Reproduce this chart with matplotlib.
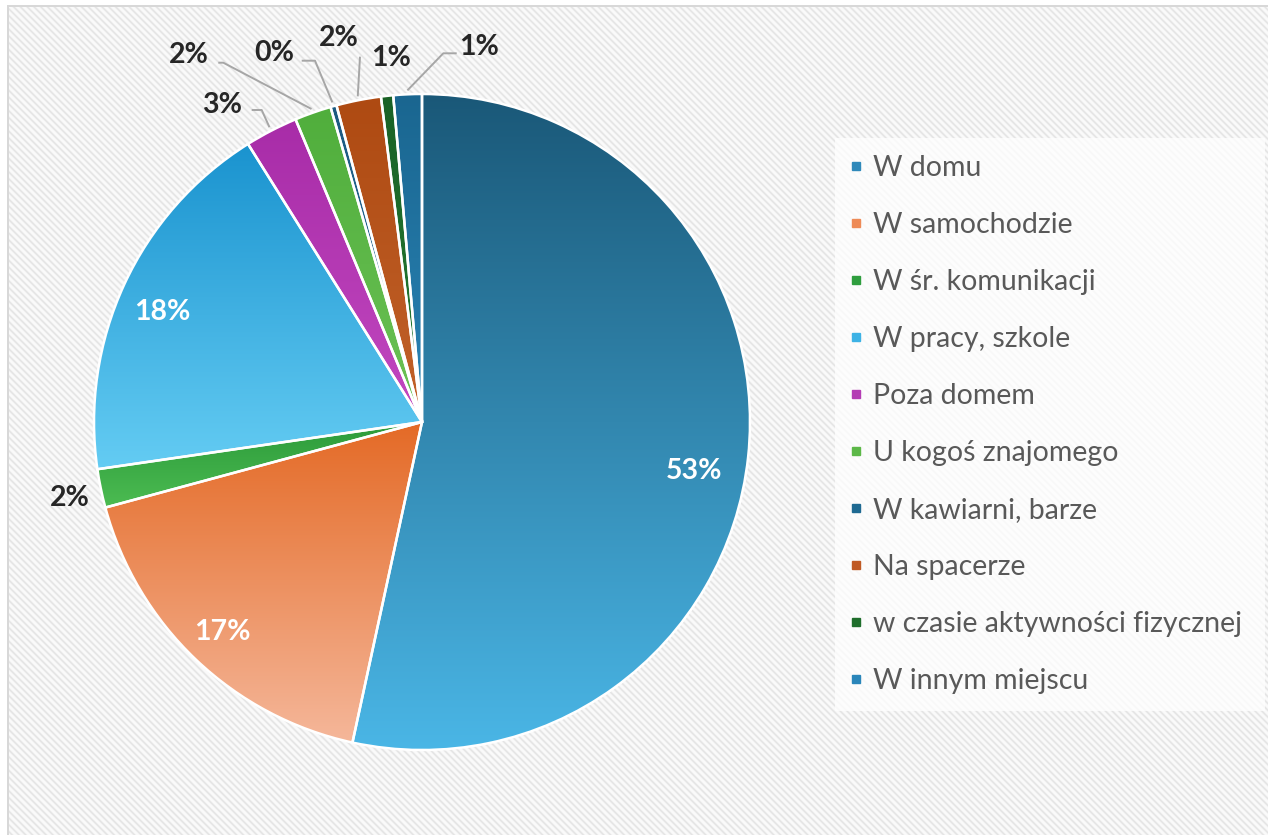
import numpy as np
import matplotlib
matplotlib.use("Agg")
import matplotlib.pyplot as plt
from matplotlib.patches import Wedge
from matplotlib.lines import Line2D
from matplotlib.colors import to_rgb

# ---------------- data ----------------
labels = ["W domu", "W samochodzie", "W śr. komunikacji", "W pracy, szkole",
          "Poza domem", "U kogoś znajomego", "W kawiarni, barze", "Na spacerze",
          "w czasie aktywności fizycznej", "W innym miejscu"]
values = [53.4, 17.4, 1.9, 18.4, 2.6, 1.8, 0.3, 2.2, 0.6, 1.4]

# ---------------- styles ----------------
top_colors = ["#1a5878", "#e46a26", "#2c9a3a", "#1a93cf", "#a82ca8",
              "#50ae3c", "#1c5a80", "#ae4a12", "#1a6226", "#1a6690"]
bottom_colors = ["#4ab6e6", "#f5b79a", "#4cbc52", "#64ccf3", "#c248c0",
                 "#6cc256", "#2a70a0", "#c2622a", "#247c32", "#2a84b6"]
legend_colors = ["#2f89ba", "#ee8b57", "#2f9e3e", "#3db2e5", "#b43cb4",
                 "#5cb848", "#1f6a92", "#c05a24", "#1f6e2c", "#2a86ba"]
inside = {0, 1, 3}
# label anchor positions in pixels (x, y from top)
label_pos = [(694, 471), (222, 632), (70, 498), (162, 312), (222, 105),
             (189, 55), (274, 53), (339, 38), (391, 58), (479, 47)]
leader_pts = {4: [(251.7, 110), (261.7, 110)],
              5: [(218.3, 62.7), (223.3, 62.7)],
              6: [(301.7, 60.7), (315, 60.7)],
              7: [(360, 56.7)],
              9: [(456.7, 53.3), (443.3, 53.3)]}

W, H = 1268, 835
plt.rcParams["font.family"] = ["Lato", "DejaVu Sans"]
fig = plt.figure(figsize=(W / 100, H / 100), dpi=100)

# ---------------- background (hatched chart area) ----------------
yy, xx = np.mgrid[0:H, 0:W]
period = 6.8
v = 0.5 + 0.5 * np.cos(2 * np.pi * (xx - yy) / period)
base = np.array([0.982, 0.982, 0.982])
stripe = np.array([0.895, 0.895, 0.895])
img = base + (stripe - base) * (v[..., None] ** 2)
img[(xx < 8) | (yy < 6)] = 1.0
img[5:7, 7:] = 0.85
img[5:, 7:9] = 0.85
bg = fig.add_axes([0, 0, 1, 1])
bg.imshow(img, origin="upper", interpolation="nearest", aspect="auto")
bg.axis("off")

# ---------------- pie ----------------
ax = fig.add_axes([0, 0, 1, 1])
cx, cy, R = 422, H - 422, 328

def P(x, y):
    return (x, H - y)

wedges, _ = ax.pie(values, startangle=90, counterclock=False, center=(cx, cy),
                   radius=R, colors=legend_colors,
                   wedgeprops=dict(linewidth=0))
ax.set_xlim(0, W)
ax.set_ylim(0, H)
ax.set_aspect("auto")
ax.axis("off")

for i, w in enumerate(wedges):
    ext = w.get_path().get_extents()
    c0 = np.array(to_rgb(top_colors[i]))
    c1 = np.array(to_rgb(bottom_colors[i]))
    t = np.linspace(0, 1, 256)[:, None, None]
    grad = c0 + (c1 - c0) * t
    im = ax.imshow(grad, extent=(ext.x0, ext.x1, ext.y0, ext.y1), origin="upper",
                   aspect="auto", interpolation="bilinear", zorder=2)
    im.set_clip_path(w)
    ow = Wedge(w.center, w.r, w.theta1, w.theta2, facecolor="none",
               edgecolor="white", linewidth=1.8, zorder=3)
    ax.add_patch(ow)

ax.set_xlim(0, W)
ax.set_ylim(0, H)

total = sum(values)
for i, w in enumerate(wedges):
    pct = round(values[i] / total * 100)
    x, y = P(*label_pos[i])
    ax.text(x, y, f"{pct:.0f}%", ha="center", va="center", fontsize=20.5,
            fontweight="bold", color="white" if i in inside else "#262626", zorder=5)
    if i in leader_pts:
        mid = np.deg2rad((w.theta1 + w.theta2) / 2)
        ex, ey = cx + R * 1.012 * np.cos(mid), cy + R * 1.012 * np.sin(mid)
        pts = [P(*p) for p in leader_pts[i]] + [(ex, ey)]
        ax.plot([p[0] for p in pts], [p[1] for p in pts], color="#a6a6a6",
                linewidth=1.4, zorder=4, solid_capstyle="butt")

# ---------------- legend ----------------
handles = [Line2D([], [], marker="s", linestyle="none", markersize=6,
                  markerfacecolor=c, markeredgecolor=c) for c in legend_colors]
leg = ax.legend(handles, labels, loc="upper left",
                bbox_to_anchor=(835 / W, 1 - 705 / H, 430 / W, 567 / H),
                bbox_transform=fig.transFigure, mode="expand", frameon=True,
                fancybox=False, framealpha=0.75, facecolor="white", edgecolor="none",
                fontsize=20.5, labelspacing=1.09, handlelength=0.3, handletextpad=0.44,
                borderpad=0.6, borderaxespad=0, labelcolor="#595959")
leg.set_zorder(6)

fig.savefig("out.png", dpi=100)
